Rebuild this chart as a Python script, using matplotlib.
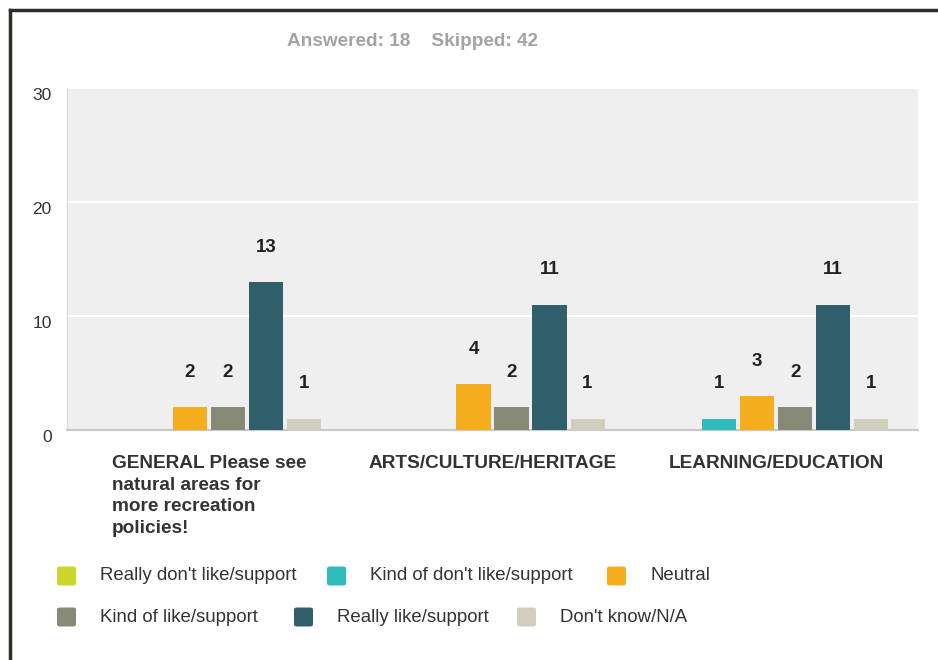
import matplotlib.pyplot as plt
import matplotlib.transforms as mtransforms
from matplotlib.patches import FancyBboxPatch
from matplotlib.lines import Line2D
import numpy as np

# Data
categories = ["GENERAL Please see\nnatural areas for\nmore recreation\npolicies!",
              "ARTS/CULTURE/HERITAGE",
              "LEARNING/EDUCATION"]
series_names = ["Really don't like/support", "Kind of don't like/support", "Neutral",
                "Kind of like/support", "Really like/support", "Don't know/N/A"]
really_dont_like = [0, 0, 0]
kind_of_dont_like = [0, 0, 1]
neutral = [2, 4, 3]
kind_of_like = [2, 2, 2]
really_like = [13, 11, 11]
dont_know = [1, 1, 1]
series_values = [really_dont_like, kind_of_dont_like, neutral, kind_of_like, really_like, dont_know]
colors = ["#cdd62b", "#30bcbf", "#f6ae1f", "#878a77", "#2e5f6b", "#d0cfbe"]
y_ticks = [0, 10, 20, 30]

plt.rcParams['font.family'] = ['Liberation Sans', 'DejaVu Sans']

fig = plt.figure(figsize=(9.38, 6.6), dpi=100)
ax = fig.add_axes([67 / 938, 1 - 430 / 660, (918 - 67) / 938, (430 - 88) / 660])
ax.set_facecolor("#efefef")

x = np.arange(len(categories))
slot = 0.134
width = 0.12
for i, (name, vals) in enumerate(zip(series_names, series_values)):
    pos = x + (i - 2.5) * slot
    ax.bar(pos, vals, width=width, color=colors[i], zorder=3)
    for px, v in zip(pos, vals):
        if v > 0:
            ax.annotate(str(v), (px, v), xytext=(0, 25), textcoords="offset points",
                        ha="center", va="center", fontsize=13.5, fontweight="bold", color="#222222")

ax.set_xlim(-0.5, 2.5)
ax.set_ylim(0, 30)
ax.set_yticks(y_ticks)
ax.set_yticklabels([str(t) for t in y_ticks], fontsize=12.5, color="#333333")
ax.tick_params(axis="y", length=0, pad=11)
offset = mtransforms.ScaledTranslation(0, -6 / 100, fig.dpi_scale_trans)
for lab in ax.get_yticklabels():
    lab.set_transform(lab.get_transform() + offset)

ax.set_xticks(x)
ax.set_xticklabels(categories, fontsize=13.7, fontweight="bold", color="#333333", va="top",
                   linespacing=1.36)
ax.tick_params(axis="x", length=0, pad=18)
for lab in ax.get_xticklabels():
    lab.set_multialignment("left")

ax.yaxis.grid(True, color="white", linewidth=1.5, zorder=0)
ax.set_axisbelow(True)
for s in ["top", "right"]:
    ax.spines[s].set_visible(False)
ax.spines["bottom"].set_color("#c8c8c8")
ax.spines["bottom"].set_linewidth(1.5)
ax.spines["left"].set_color("#dddddd")
ax.spines["left"].set_linewidth(1)

# header
fig.text(412 / 938, 1 - 42 / 660, "Answered: 18    Skipped: 42", ha="center", va="center",
         fontsize=13.7, fontweight="bold", color="#a3a3a3")

# legend, laid out in two rows like the original
legend_x = [57, 327, 607, 57, 294, 517]
legend_y = [576, 576, 576, 617, 617, 617]
for name, c, lx, ly in zip(series_names, colors, legend_x, legend_y):
    box = FancyBboxPatch((lx / 938, 1 - (ly + 9.5) / 660), 19 / 938, 19 / 660,
                         boxstyle="round,pad=0,rounding_size=0.003",
                         transform=fig.transFigure, facecolor=c, edgecolor="none")
    fig.patches.append(box)
    fig.text((lx + 43) / 938, 1 - ly / 660, name, ha="left", va="center",
             fontsize=13.4, color="#333333")

# dark frame on top and left
fig.lines.append(Line2D([10 / 938, 1], [1 - 10 / 660, 1 - 10 / 660], transform=fig.transFigure,
                        color="#2f2f27", linewidth=2.5))
fig.lines.append(Line2D([10 / 938, 10 / 938], [0, 1 - 10 / 660], transform=fig.transFigure,
                        color="#2f2f27", linewidth=2.5))

fig.savefig("out.png", dpi=100)
